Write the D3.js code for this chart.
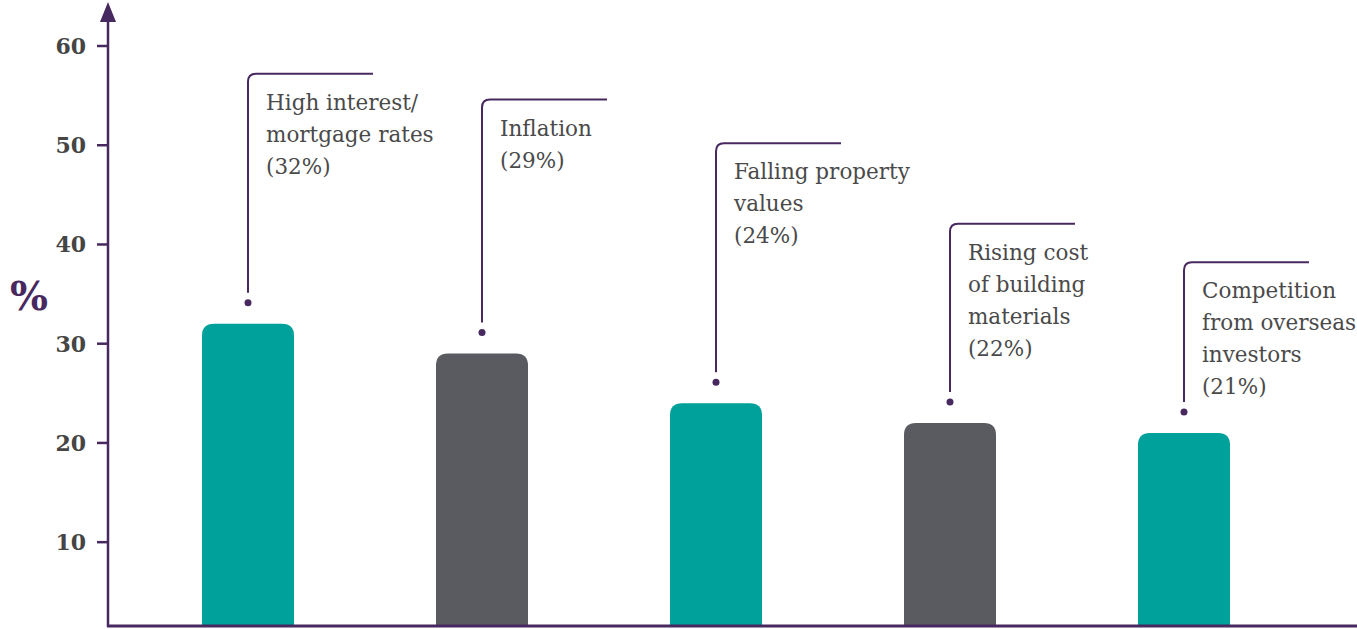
<!DOCTYPE html>
<html>
<head>
<meta charset="utf-8">
<title>Concerns chart</title>
<style>
  html, body { margin: 0; padding: 0; background: #fff; }
  svg { display: block; }
  .tick-label { font-family: "DejaVu Serif", serif; font-weight: bold; font-size: 22px; fill: #454545; }
  .note { font-family: "DejaVu Serif", serif; font-size: 21.5px; fill: #4a4a4a; }
</style>
</head>
<body>
<svg id="chart" width="1357" height="629"></svg>
<script src="https://cdn.jsdelivr.net/npm/d3@7/dist/d3.min.js"></script>
<script>
// data
var categories = ["High interest/mortgage rates", "Inflation", "Falling property values",
  "Rising cost of building materials", "Competition from overseas investors"];
var values = [32, 29, 24, 22, 21];
var labelLines = [
  ["High interest/", "mortgage rates", "(32%)"],
  ["Inflation", "(29%)"],
  ["Falling property", "values", "(24%)"],
  ["Rising cost", "of building", "materials", "(22%)"],
  ["Competition", "from overseas", "investors", "(21%)"]
];
var labelTops = [57.2, 54.6, 50.2, 42.1, 38.2]; // where each callout elbow sits, in % units
var barColors = ["#00a19a", "#5a5b60", "#00a19a", "#5a5b60", "#00a19a"];
var yTicks = [10, 20, 30, 40, 50, 60];

var purple = "#47295f";
var svg = d3.select("#chart");

var axisX = 108, baseY = 626;

var y = d3.scaleLinear().domain([0, 60]).range([641.4, 46]);
var x = d3.scaleBand().domain(categories)
  .range([108, 1324]).paddingInner(0.6068).paddingOuter(0.4017);

// bars with rounded tops
var r = 12;
svg.selectAll("path.bar")
  .data(values)
  .enter()
  .append("path")
  .attr("class", "bar")
  .attr("fill", function (d, i) { return barColors[i]; })
  .attr("d", function (d, i) {
    var x0 = x(categories[i]), w = x.bandwidth(), t = y(d);
    return "M" + x0 + "," + baseY +
      "V" + (t + r) +
      "Q" + x0 + "," + t + " " + (x0 + r) + "," + t +
      "H" + (x0 + w - r) +
      "Q" + (x0 + w) + "," + t + " " + (x0 + w) + "," + (t + r) +
      "V" + baseY + "Z";
  });

// y axis line + arrow
svg.append("line")
  .attr("x1", axisX).attr("x2", axisX)
  .attr("y1", baseY + 1).attr("y2", 18)
  .attr("stroke", purple).attr("stroke-width", 2.5);
svg.append("path")
  .attr("d", "M" + (axisX - 8) + ",22 L" + axisX + ",2 L" + (axisX + 8) + ",22 Z")
  .attr("fill", purple);

// x axis line
svg.append("line")
  .attr("x1", axisX - 1).attr("x2", 1357)
  .attr("y1", baseY).attr("y2", baseY)
  .attr("stroke", purple).attr("stroke-width", 3);

// ticks
var ticks = svg.selectAll("g.tick").data(yTicks).enter().append("g").attr("class", "tick");
ticks.append("line")
  .attr("x1", 97).attr("x2", axisX)
  .attr("y1", function (d) { return y(d); })
  .attr("y2", function (d) { return y(d); })
  .attr("stroke", purple).attr("stroke-width", 2.5);
ticks.append("text")
  .attr("class", "tick-label")
  .attr("x", 86)
  .attr("y", function (d) { return y(d) + 8; })
  .attr("text-anchor", "end")
  .text(function (d) { return d; });

// axis unit
svg.append("text")
  .attr("x", 10).attr("y", 310)
  .attr("font-family", "DejaVu Serif, serif")
  .attr("font-size", 40)
  .attr("font-weight", "bold")
  .attr("fill", purple)
  .text("%");

// callouts
var cr = 8, armLen = 125;
var notes = svg.selectAll("g.note").data(values).enter().append("g");
notes.append("circle")
  .attr("cx", function (d, i) { return x(categories[i]) + x.bandwidth() / 2; })
  .attr("cy", function (d) { return y(d) - 21; })
  .attr("r", 3.5)
  .attr("fill", purple);
notes.append("path")
  .attr("fill", "none")
  .attr("stroke", purple)
  .attr("stroke-width", 2)
  .attr("d", function (d, i) {
    var cx = x(categories[i]) + x.bandwidth() / 2;
    var top = y(labelTops[i]);
    var bottom = y(d) - 31;
    return "M" + cx + "," + bottom + "V" + (top + cr) +
      "Q" + cx + "," + top + " " + (cx + cr) + "," + top +
      "H" + (cx + armLen);
  });
notes.each(function (d, i) {
  var cx = x(categories[i]) + x.bandwidth() / 2;
  var top = y(labelTops[i]);
  var t = d3.select(this).append("text").attr("class", "note");
  labelLines[i].forEach(function (line, k) {
    t.append("tspan")
      .attr("x", cx + 18)
      .attr("y", top + 36 + k * 32)
      .text(line);
  });
});
</script>
</body>
</html>
